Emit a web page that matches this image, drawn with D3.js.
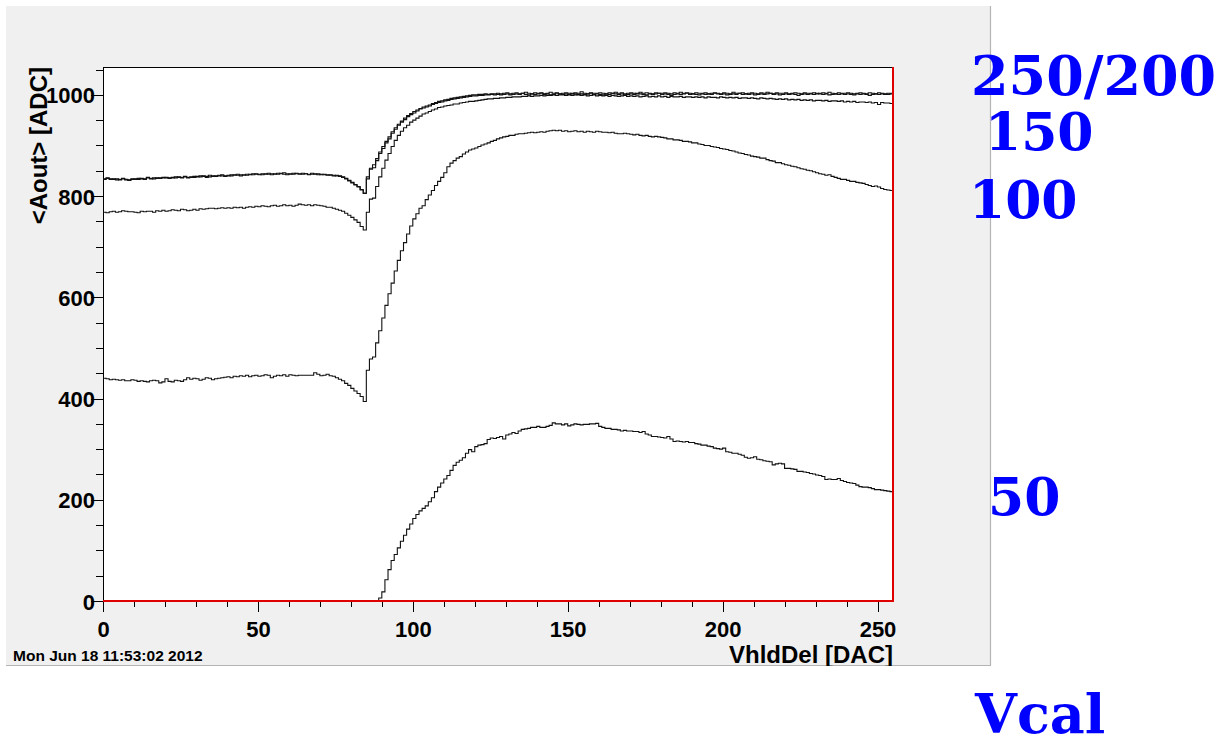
<!DOCTYPE html>
<html>
<head>
<meta charset="utf-8">
<script src="https://cdn.jsdelivr.net/npm/d3@7"></script>
<style>
  html, body { margin: 0; padding: 0; background: #ffffff; }
  svg { display: block; }
</style>
</head>
<body>
<svg id="chart" width="1219" height="739"></svg>
<script>
// VhldDel scan: mean analog output <Aout> per DAC bin (bins 0..254), one histogram per Vcal setting
const vcal50 = [
  0,0,0,0,0,0,0,0,0,0,
  0,0,0,0,0,0,0,0,0,0,
  0,0,0,0,0,0,0,0,0,0,
  0,0,0,0,0,0,0,0,0,0,
  0,0,0,0,0,0,0,0,0,0,
  0,0,0,0,0,0,0,0,0,0,
  0,0,0,0,0,0,0,0,0,0,
  0,0,0,0,0,0,0,0,0,0,
  0,0,0,0,0,0,0,0,0,6,
  18,42,62,80,92,105,118,130,142,152,
  163,171,178,183,188,196,204,216,225,233,
  241,248,258,268,274,278,283,292,299,295,
  305,308,309,311,319,322,321,323,325,320,
  328,330,333,331,336,339,340,341,343,343,
  345,343,343,345,347,352,350,350,348,350,
  346,348,350,349,348,349,349,350,350,351,
  345,343,341,341,339,339,338,336,337,336,
  336,335,335,333,335,330,328,325,325,324,
  323,322,325,320,315,316,315,314,315,313,
  313,311,310,308,308,306,305,302,301,300,
  302,295,294,292,292,290,288,284,282,283,
  285,280,279,277,276,275,269,271,272,271,
  262,262,261,260,256,256,255,254,252,251,
  249,248,246,240,241,240,240,242,238,236,
  234,233,232,229,226,225,225,224,222,220,
  220,219,218,217,216
];

const vcal100 = [
  440,439,437,438,437,436,437,435,435,437,
  436,434,435,434,433,435,436,435,431,433,
  439,434,433,436,435,434,437,441,438,440,
  439,436,438,441,440,437,439,440,441,442,
  443,441,444,443,445,444,446,443,445,446,
  444,445,447,446,441,444,446,445,447,444,
  447,446,445,446,446,446,446,446,451,448,
  445,446,448,445,444,441,438,435,430,426,
  420,415,410,404,394,456,478,482,510,534,
  559,584,607,628,652,673,692,708,725,741,
  755,765,776,781,793,802,811,821,829,837,
  846,858,865,870,875,878,883,887,891,893,
  895,898,901,903,905,908,910,913,915,917,
  918,920,920,922,923,923,924,925,926,925,
  926,927,926,928,929,930,929,930,928,929,
  927,928,929,927,928,926,928,927,926,928,
  927,926,926,925,926,924,923,923,924,923,
  922,921,922,920,919,920,918,917,918,917,
  916,915,913,913,911,911,910,908,908,907,
  905,905,903,902,900,900,898,897,896,894,
  893,892,890,889,887,885,884,882,881,879,
  878,877,875,875,872,870,869,866,866,864,
  862,861,859,858,856,854,853,851,850,848,
  846,844,843,841,842,839,837,835,833,833,
  831,829,829,827,826,825,823,821,819,820,
  818,815,813,812,811
];

const vcal150 = [
  768,767,769,770,768,769,771,770,769,769,
  768,767,770,769,770,770,768,771,770,772,
  770,771,773,772,771,774,773,771,772,774,
  772,775,774,775,776,776,775,776,777,776,
  777,776,778,777,778,776,778,779,778,780,
  779,781,780,779,781,782,780,781,783,781,
  782,780,782,784,783,782,783,781,783,782,
  781,780,778,778,776,774,772,770,766,762,
  758,753,748,740,733,768,794,796,819,838,
  855,871,884,898,910,920,928,935,940,946,
  950,954,958,962,964,967,970,972,975,976,
  978,979,980,982,982,984,985,986,987,987,
  988,989,990,991,992,992,993,993,994,994,
  995,995,996,996,996,997,997,998,997,998,
  998,999,998,999,999,1000,999,1000,1000,999,
  1000,999,1000,1001,999,1000,998,999,1000,998,
  999,998,999,997,999,998,997,998,999,997,
  998,997,998,996,997,998,996,997,996,998,
  996,997,995,997,996,996,997,995,996,996,
  995,996,995,996,994,996,995,995,994,996,
  995,994,995,994,995,993,994,994,993,994,
  993,992,994,993,992,993,992,991,992,991,
  992,990,991,990,991,989,990,989,990,988,
  989,989,988,989,987,988,988,987,988,986,
  987,986,987,985,986,986,985,986,984,985,
  981,985,984,984,983
];

const vcal200 = [
  834,835,833,834,832,833,834,832,831,833,
  834,833,835,834,836,835,834,836,835,837,
  836,835,837,836,838,837,839,836,838,837,
  839,838,840,839,838,840,839,841,840,839,
  841,840,842,841,840,842,841,843,842,844,
  843,842,844,843,842,844,843,845,843,842,
  844,843,845,844,843,844,842,843,844,842,
  843,842,841,842,840,841,839,837,834,830,
  826,822,818,812,805,834,853,856,870,884,
  894,905,913,924,932,940,946,951,957,961,
  964,968,972,974,976,978,981,983,985,986,
  988,989,991,992,993,994,995,996,997,998,
  998,999,999,1000,1000,1001,1000,1001,1000,1001,
  1002,1000,1001,1002,1001,1003,1001,1000,1002,1001,
  1002,1003,1001,1002,1000,1001,1003,1002,1001,1002,
  1001,1003,1002,1000,1002,1001,1002,1003,1001,1002,
  1001,1000,1002,1001,1003,1002,1001,1002,1000,1001,
  1002,1001,1003,1002,1001,1000,1002,1001,1002,1003,
  1001,1002,1001,999,1001,1002,1001,1002,1003,1001,
  1002,1001,1000,1002,1001,1002,1001,1003,1002,1001,
  1002,1000,1001,1002,1001,1003,1001,1002,1001,1002,
  1000,1001,1002,1001,1002,1003,1001,1002,1000,1001,
  1002,1001,1002,1001,999,1001,1002,1001,1002,1001,
  1003,1002,1001,1002,1000,1001,1002,1001,1002,1001,
  1002,1001,1000,1002,1001,1002,1001,999,1001,1002,
  1001,1002,1001,1001,1002
];

const vcal250 = [
  833,836,834,833,834,832,835,833,832,834,
  833,835,834,833,837,834,836,835,836,836,
  837,836,836,838,837,836,838,837,837,839,
  838,840,839,837,841,839,840,840,842,840,
  840,842,841,843,842,841,843,842,844,843,
  842,844,843,845,844,843,845,844,846,844,
  843,845,844,843,845,844,843,845,843,844,
  842,843,842,841,841,840,840,838,835,831,
  827,823,819,813,806,838,855,862,874,887,
  898,908,917,927,935,942,948,954,959,963,
  967,970,973,976,978,980,983,985,987,988,
  990,991,993,994,995,996,997,998,999,1000,
  1000,1001,1001,1002,1001,1002,1002,1003,1002,1003,
  1004,1002,1003,1004,1002,1003,1005,1003,1002,1004,
  1003,1004,1002,1003,1005,1003,1004,1002,1003,1004,
  1003,1002,1004,1003,1006,1003,1002,1004,1003,1003,
  1004,1003,1002,1004,1003,1005,1003,1004,1002,1003,
  1004,1003,1002,1005,1003,1004,1003,1002,1004,1003,
  1003,1004,1003,1002,1004,1003,1005,1003,1004,1003,
  1002,1004,1003,1003,1004,1002,1003,1004,1003,1002,
  1004,1003,1002,1005,1003,1003,1004,1002,1003,1004,
  1003,1002,1004,1003,1005,1003,1002,1004,1003,1003,
  1004,1002,1003,1004,1003,1002,1004,1003,1003,1004,
  1002,1003,1004,1003,1005,1003,1002,1004,1003,1003,
  1004,1003,1002,1003,1004,1003,1002,1004,1003,1002,
  1004,1003,1002,1003,1003
];

// axis ticks and texts
const xTicks = [0, 50, 100, 150, 200, 250];
const xMinorTicks = d3.range(0, 256, 10);
const yTicks = [0, 200, 400, 600, 800, 1000];
const yMinorTicks = d3.range(0, 1051, 50);
const xDomain = [0, 255];
const yDomain = [0, 1055];
const xTitle = "VhldDel [DAC]";
const yTitle = "<Aout> [ADC]";
const stamp = "Mon Jun 18 11:53:02 2012";
const seriesList = [vcal50, vcal100, vcal150, vcal200, vcal250];
const vcalNames = ["250/200", "150", "100", "50"];
const vcalTitle = "Vcal";

const svg = d3.select("#chart");
const W = 1219, H = 739;
const canvas = { x: 6, y: 6, w: 985, h: 660 };
const frame = { left: 103, right: 893, top: 67, bottom: 601 };

svg.append("rect").attr("width", W).attr("height", H).attr("fill", "#ffffff");

// ROOT-style canvas
svg.append("defs").append("clipPath").attr("id", "canvasClip")
  .append("rect").attr("x", canvas.x).attr("y", canvas.y).attr("width", canvas.w).attr("height", canvas.h);
svg.append("rect")
  .attr("x", canvas.x).attr("y", canvas.y).attr("width", canvas.w).attr("height", canvas.h)
  .attr("fill", "#f0f0f0");
svg.append("path")
  .attr("d", `M${canvas.x},${canvas.y + canvas.h - 0.5}H${canvas.x + canvas.w - 0.5}V${canvas.y}`)
  .attr("fill", "none").attr("stroke", "#b4b4b4").attr("stroke-width", 1.2);

const x = d3.scaleLinear().domain(xDomain).range([frame.left, frame.right]);
const y = d3.scaleLinear().domain(yDomain).range([frame.bottom, frame.top]);

// frame
svg.append("rect")
  .attr("x", frame.left).attr("y", frame.top)
  .attr("width", frame.right - frame.left).attr("height", frame.bottom - frame.top)
  .attr("fill", "#ffffff").attr("stroke", "#000").attr("stroke-width", 1)
  .attr("shape-rendering", "crispEdges");

const fontRoot = "'Liberation Sans', Arial, Helvetica, sans-serif";

// x axis: minor and major ticks hanging below the frame
const gxMinor = svg.append("g").attr("transform", `translate(0,${frame.bottom})`)
  .call(d3.axisBottom(x).tickValues(xMinorTicks).tickSize(6).tickFormat(""));
const gxMajor = svg.append("g").attr("transform", `translate(0,${frame.bottom})`)
  .call(d3.axisBottom(x).tickValues(xTicks).tickSize(11).tickFormat(d3.format("d")));
// y axis
const gyMinor = svg.append("g").attr("transform", `translate(${frame.left},0)`)
  .call(d3.axisLeft(y).tickValues(yMinorTicks).tickSize(7).tickFormat(""));
const gyMajor = svg.append("g").attr("transform", `translate(${frame.left},0)`)
  .call(d3.axisLeft(y).tickValues(yTicks).tickSize(12).tickFormat(d3.format("d")));

[gxMinor, gxMajor, gyMinor, gyMajor].forEach(g => {
  g.select(".domain").remove();
  g.selectAll(".tick line").attr("stroke", "#000").attr("shape-rendering", "crispEdges");
});
gxMajor.selectAll(".tick text")
  .attr("y", 36).attr("dy", null)
  .attr("font-family", fontRoot).attr("font-weight", "bold").attr("font-size", 22).attr("fill", "#000");
gyMajor.selectAll(".tick text")
  .attr("x", -8).attr("dy", 8)
  .attr("font-family", fontRoot).attr("font-weight", "bold").attr("font-size", 22).attr("fill", "#000");

// histograms drawn as step outlines, one bin per DAC unit
const histLine = d3.line()
  .x(d => x(d[0]))
  .y(d => y(d[1]))
  .curve(d3.curveStepAfter);

seriesList.forEach(vals => {
  const pts = vals.map((v, i) => [i, v]);
  pts.push([vals.length, vals[vals.length - 1]]);
  svg.append("path")
    .attr("d", histLine(pts))
    .attr("fill", "none")
    .attr("stroke", "#111")
    .attr("stroke-width", 1.1)
    .attr("stroke-linejoin", "miter");
});

// red empty histogram along the baseline and the right edge
svg.append("path")
  .attr("d", `M${x(xDomain[0])},${y(0)}H${x(xDomain[1])}V${y(yDomain[1])}`)
  .attr("fill", "none").attr("stroke", "#e00000").attr("stroke-width", 2);

// axis titles
svg.append("text")
  .attr("clip-path", "url(#canvasClip)")
  .attr("x", frame.right).attr("y", 663)
  .attr("text-anchor", "end")
  .attr("font-family", fontRoot).attr("font-weight", "bold").attr("font-size", 24)
  .text(xTitle);
svg.append("text")
  .attr("transform", `translate(47,${frame.top}) rotate(-90)`)
  .attr("text-anchor", "end")
  .attr("font-family", fontRoot).attr("font-weight", "bold").attr("font-size", 24)
  .text(yTitle);

// time stamp
svg.append("text")
  .attr("x", 13).attr("y", 661)
  .attr("font-family", fontRoot).attr("font-weight", "bold").attr("font-size", 15.5)
  .text(stamp);

// Vcal annotations
const vcalLayout = [
  { x: 971, y: 95 },
  { x: 985, y: 150 },
  { x: 969, y: 218 },
  { x: 988, y: 515 }
];
const serif = "'DejaVu Serif', serif";
vcalNames.forEach((name, i) => {
  svg.append("text")
    .attr("x", vcalLayout[i].x).attr("y", vcalLayout[i].y)
    .attr("font-family", serif).attr("font-weight", "bold").attr("font-size", i === 0 ? 54 : 52)
    .attr("fill", "#0000ff")
    .text(name);
});
svg.append("text")
  .attr("x", 975).attr("y", 733)
  .attr("font-family", serif).attr("font-weight", "bold").attr("font-size", 54)
  .attr("fill", "#0000ff")
  .text(vcalTitle);
</script>
</body>
</html>
